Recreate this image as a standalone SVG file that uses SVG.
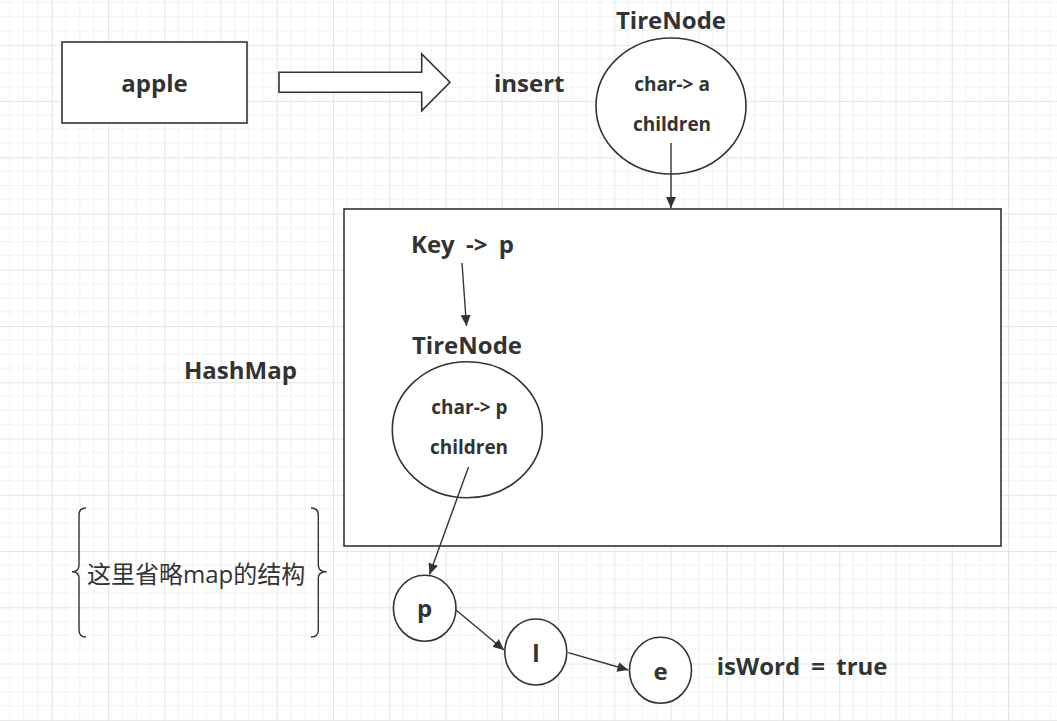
<svg xmlns="http://www.w3.org/2000/svg" width="1057" height="721" viewBox="0 0 1057 721">
<style>
.shape{fill:#fff;stroke:#333;stroke-width:1.6}
.line{fill:none;stroke:#333;stroke-width:1.4}
.big{font-family:"Open Sans","Noto Sans",sans-serif;font-weight:bold;font-size:24px;fill:#333}
.small{font-family:"Open Sans","Noto Sans",sans-serif;font-weight:bold;font-size:19px;fill:#333}
.cn{font-family:"Open Sans","Noto Sans CJK SC",sans-serif;font-size:24px;fill:#333}
.minor{stroke:#f1f1f1;stroke-width:1}
.major{stroke:#e4e4e4;stroke-width:1}
</style>
<defs>
<pattern id="grid" patternUnits="userSpaceOnUse" x="51.75" y="44.8" width="56.25" height="56.25">
<path class="minor" d="M14.06 0V56.25M28.12 0V56.25M42.19 0V56.25M0 14.06H56.25M0 28.12H56.25M0 42.19H56.25"/>
<path class="major" d="M0.5 0V56.25M0 0.5H56.25"/>
</pattern>
<marker id="arr" markerUnits="userSpaceOnUse" markerWidth="12" markerHeight="10" refX="11" refY="5" orient="auto">
<path d="M0 0L11 5L0 10z" fill="#333"/>
</marker>
</defs>
<rect width="1057" height="721" fill="#fff"/>
<rect width="1057" height="721" fill="url(#grid)"/>

<g id="apple">
<rect class="shape" x="62" y="42" width="185" height="81"/>
<text class="big" x="154.5" y="92" text-anchor="middle">apple</text>
</g>
<g id="insert-arrow">
<polygon class="shape" points="279,72.3 421.7,72.3 421.7,54 450,82.3 421.7,110.7 421.7,92.3 279,92.3"/>
</g>
<g id="insert-label">
<text class="big" x="494" y="92">insert</text>
</g>
<g id="tirenode-a">
<text class="big" x="671" y="29" text-anchor="middle">TireNode</text>
<ellipse class="shape" cx="671" cy="106" rx="75" ry="68"/>
<text class="small" x="672" y="91" text-anchor="middle">char-&gt; a</text>
<text class="small" x="672" y="131" text-anchor="middle">children</text>
</g>
<g id="hashmap">
<rect class="shape" x="344" y="209" width="657" height="337"/>
<text class="big" x="184" y="379">HashMap</text>
</g>
<g id="key-p">
<text class="big" x="411" y="253" word-spacing="5">Key -&gt; p</text>
</g>
<g id="tirenode-p">
<text class="big" x="467" y="354" text-anchor="middle">TireNode</text>
<ellipse class="shape" cx="467.3" cy="429.7" rx="75" ry="68"/>
<text class="small" x="469.5" y="414" text-anchor="middle">char-&gt; p</text>
<text class="small" x="469" y="454" text-anchor="middle">children</text>
</g>
<g id="brace-note">
<path class="line" d="M86 508Q79 508 79 515L79 565Q79 571.7 72 571.7Q79 571.7 79 578L79 630Q79 637 86 637"/>
<path class="line" d="M311 508Q318.3 508 318.3 515L318.3 565Q318.3 571.7 326.5 571.7Q318.3 571.7 318.3 578L318.3 630Q318.3 637 311 637"/>
<text class="cn" x="87" y="583">这里省略map的结构</text>
</g>
<g id="node-p">
<ellipse class="shape" cx="424.7" cy="608.3" rx="31.3" ry="33"/>
<text class="big" x="424.7" y="617" text-anchor="middle">p</text>
</g>
<g id="node-l">
<ellipse class="shape" cx="535.8" cy="652" rx="31" ry="33"/>
<text class="big" x="535.8" y="662" text-anchor="middle">l</text>
</g>
<g id="node-e">
<ellipse class="shape" cx="660.5" cy="670.3" rx="31" ry="33"/>
<text class="big" x="660.5" y="679.5" text-anchor="middle">e</text>
</g>
<g id="isword">
<text class="big" x="716.7" y="675" word-spacing="5">isWord = true</text>
</g>

<g id="connectors">
<line class="line" x1="671" y1="143" x2="671" y2="208" marker-end="url(#arr)"/>
<line class="line" x1="462" y1="263" x2="466.5" y2="326" marker-end="url(#arr)"/>
<line class="line" x1="468.5" y1="467" x2="429.5" y2="574.5" marker-end="url(#arr)"/>
<line class="line" x1="456" y1="610" x2="504" y2="650" marker-end="url(#arr)"/>
<line class="line" x1="568.3" y1="652.7" x2="628.3" y2="670" marker-end="url(#arr)"/>
</g>
</svg>
